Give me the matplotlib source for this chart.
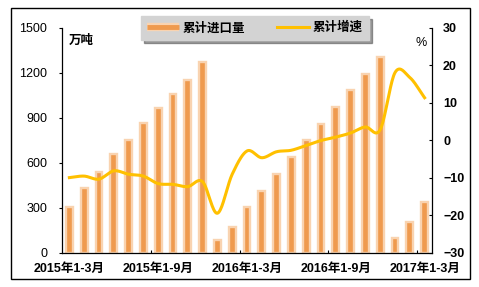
import numpy as np
import matplotlib.pyplot as plt
from matplotlib.lines import Line2D
from matplotlib.patches import Rectangle

plt.rcParams['font.family'] = ['Liberation Sans', 'Noto Sans CJK SC']

# cumulative imports (10k tons) and cumulative growth (%)
periods = (['2015年1-%d月' % m for m in range(3, 13)]
           + ['2016年1-%d月' % m for m in range(1, 13)]
           + ['2017年1-%d月' % m for m in range(1, 4)])
imports = [309, 431, 542, 658, 756, 864, 964, 1058, 1153, 1271,
           87, 176, 309, 413, 525, 638, 753, 860, 971, 1087, 1193, 1309,
           98, 205, 338]
growth = [-9.9, -9.5, -10.3, -8.1, -9.0, -9.5, -11.5, -11.7, -12.3, -11.0,
          -19.4, -9.0, -2.8, -4.6, -3.0, -2.6, -1.3, 0.0, 0.9, 2.0, 3.6, 2.9,
          18.1, 16.8, 11.4]
xtick_idx = [0, 6, 12, 18, 24]


def smooth(xs, ys, n=20):
    # catmull-rom curve like Excel's smoothed line
    xs = np.asarray(xs, float)
    ys = np.asarray(ys, float)
    px = np.concatenate([[2 * xs[0] - xs[1]], xs, [2 * xs[-1] - xs[-2]]])
    py = np.concatenate([[2 * ys[0] - ys[1]], ys, [2 * ys[-1] - ys[-2]]])
    ox, oy = [], []
    for i in range(1, len(px) - 2):
        t = np.linspace(0, 1, n, endpoint=False)
        for p, o in ((px, ox), (py, oy)):
            p0, p1, p2, p3 = p[i - 1], p[i], p[i + 1], p[i + 2]
            o.extend(0.5 * (2 * p1 + (-p0 + p2) * t
                            + (2 * p0 - 5 * p1 + 4 * p2 - p3) * t ** 2
                            + (-p0 + 3 * p1 - 3 * p2 + p3) * t ** 3))
    ox.append(xs[-1])
    oy.append(ys[-1])
    return np.array(ox), np.array(oy)


fig = plt.figure(figsize=(4.79, 2.87), dpi=100)
fig.patches.append(Rectangle((11 / 479, 1 - 279 / 287), 459 / 479, 271 / 287,
                             transform=fig.transFigure, fill=False,
                             edgecolor='black', linewidth=1.0))

ax = fig.add_axes([0.1294, 0.1185, 0.7725, 0.784])
x = np.arange(len(periods))
ax.bar(x, imports, width=0.45, color='#EF9A4E', edgecolor='#F9D3B0',
       linewidth=1.7, zorder=2)
ax.set_xlim(-0.5, len(periods) - 0.5)
ax.set_ylim(0, 1500)
ax.set_yticks(range(0, 1501, 300))
ax.tick_params(axis='y', direction='out', length=2.5, width=0.8, pad=8,
               labelsize=9)
ax.set_xticks(x[xtick_idx])
ax.set_xticklabels([periods[i] for i in xtick_idx], fontsize=9,
                   fontweight='bold')
ax.set_xticks(np.array(xtick_idx[1:]) - 0.5, minor=True)
ax.tick_params(axis='x', which='major', length=0, pad=7)
ax.tick_params(axis='x', which='minor', direction='in', length=2.5,
               width=0.8)
ax.spines['top'].set_visible(False)
ax.spines['right'].set_visible(False)
for s in ('left', 'bottom'):
    ax.spines[s].set_linewidth(0.9)

ax2 = ax.twinx()
sx, sy = smooth(x, growth)
ax2.plot(sx, sy, color='#FFC000', linewidth=2.2, zorder=3)
ax2.set_ylim(-30, 30)
ax2.set_yticks(range(-30, 31, 10))
ax2.tick_params(axis='y', direction='in', length=2.5, width=0.8, pad=8,
                labelsize=9)
for lab in ax2.get_yticklabels():
    lab.set_fontweight('bold')
ax2.spines['top'].set_visible(False)
ax2.spines['left'].set_visible(False)
ax2.spines['bottom'].set_visible(False)
ax2.spines['right'].set_linewidth(0.9)

fig.text(69 / 479, 1 - 41 / 287, '万吨', fontsize=9, fontweight='bold',
         va='center', ha='left')
fig.text(421 / 479, 1 - 43 / 287, '%', fontsize=9, va='center', ha='center')

handles = [
    Line2D([], [], color='#EF9A4E', linewidth=3.5, solid_capstyle='butt',
           path_effects=[]),
    Line2D([], [], color='#FFC000', linewidth=2.2),
]
import matplotlib.patheffects as pe
handles[0].set_path_effects([pe.Stroke(linewidth=6, foreground='#F9D3B0'),
                             pe.Normal()])
leg = fig.legend(handles, ['累计进口量', '累计增速'], ncol=2,
                 loc='center', bbox_to_anchor=(255 / 479, 1 - 28 / 287),
                 frameon=True, fancybox=False, shadow=True,
                 prop={'size': 9, 'weight': 'bold'},
                 handlelength=2.6, columnspacing=2.5, borderpad=0.45,
                 handletextpad=0.3)
leg.get_frame().set_facecolor('#D3D3D3')
leg.get_frame().set_edgecolor('#D3D3D3')
leg.get_frame().set_alpha(1)

fig.savefig('out.png', dpi=100)
